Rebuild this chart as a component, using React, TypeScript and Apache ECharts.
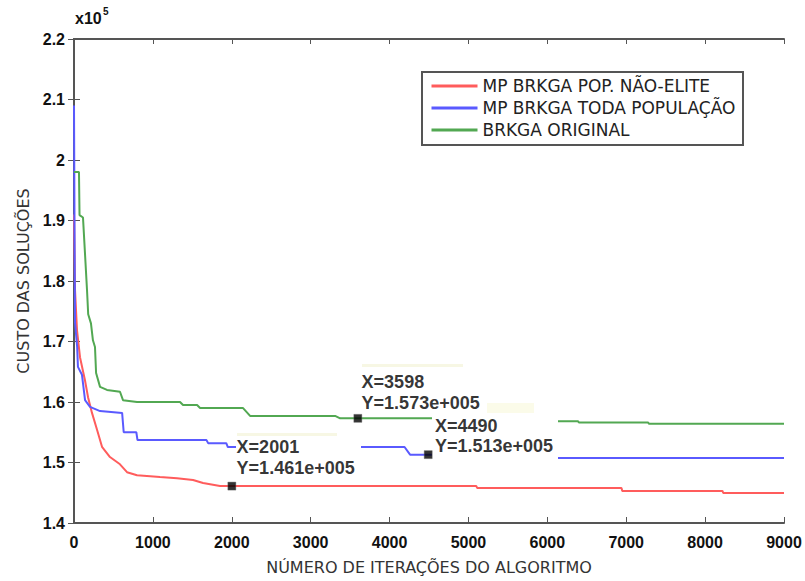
import React, { useEffect, useRef } from "react";
import * as echarts from "echarts";

// ---- data (costs in raw units) ----
const naoEliteIter = [0, 13, 38, 76, 139, 178, 228, 292, 355, 456, 583, 672, 799, 1090, 1306, 1509, 1636, 1851, 2001, 5100, 5110, 6940, 6950, 8220, 8230, 9000];
const naoEliteCost = [191000, 178500, 171900, 167400, 163600, 160800, 158200, 155400, 152600, 150900, 149700, 148400, 147900, 147600, 147400, 147100, 146600, 146100, 146100, 146100, 145800, 145800, 145300, 145300, 144960, 144960];

const todaPopIter = [0, 8, 13, 40, 50, 101, 140, 203, 330, 610, 630, 790, 805, 1680, 1700, 1930, 1950, 4190, 4260, 5300, 5310, 9000];
const todaPopCost = [209000, 185000, 173100, 169100, 165800, 164500, 160300, 159200, 158500, 158200, 155000, 155000, 153700, 153700, 153200, 153200, 152560, 152560, 151300, 151300, 150740, 150740];

const originalIter = [0, 63, 70, 114, 165, 180, 215, 240, 266, 280, 330, 418, 583, 621, 799, 1344, 1382, 1560, 1598, 2143, 2232, 3310, 3373, 5500, 5510, 6390, 6400, 7278, 7290, 9000];
const originalCost = [198000, 198000, 190900, 190500, 178500, 174500, 173000, 170200, 169100, 164800, 162500, 162000, 161700, 160300, 160000, 160000, 159500, 159500, 159000, 159000, 157700, 157700, 157300, 157300, 156800, 156800, 156600, 156600, 156400, 156400];

const tipIter = [2001, 3598, 4490];
const tipCost = [146100, 157300, 151300];

const seriesNames = ["MP BRKGA POP. NÃO-ELITE", "MP BRKGA TODA POPULAÇÃO", "BRKGA ORIGINAL"];
const xTicks = { min: 0, max: 9000, interval: 1000 };
const yTicks = { min: 140000, max: 220000, interval: 10000 };

const zip = (a: number[], b: number[]) => a.map((v, i) => [v, b[i]]);

export default function App() {
  const ref = useRef<HTMLDivElement>(null);
  useEffect(() => {
    if (!ref.current) return;
    const chart = echarts.init(ref.current, null, { renderer: "svg" });
    const tickFont = { fontFamily: "Liberation Sans, Arial, sans-serif", fontWeight: "bold" as const, fontSize: 16, color: "#111" };
    const axisLine = { show: true, lineStyle: { color: "#555", width: 2 } };
    const tipLabelPos = [
      [9, -45],
      [8, -43],
      [11, -34],
    ];
    chart.setOption({
      animation: false,
      backgroundColor: "#fff",
      grid: { left: 74, top: 39, width: 710, height: 484, containLabel: false },
      xAxis: [
        {
          type: "value", ...xTicks, position: "bottom",
          name: "NÚMERO DE ITERAÇÕES DO ALGORITMO", nameLocation: "middle", nameGap: 36,
          nameTextStyle: { fontFamily: "DejaVu Sans", fontSize: 16, color: "#333" },
          axisLine, axisTick: { inside: true, length: 6, lineStyle: { color: "#555" } },
          axisLabel: { ...tickFont, margin: 11, formatter: (v: number) => String(v) }, splitLine: { show: false },
        },
        {
          type: "value", ...xTicks, position: "top",
          axisLine, axisTick: { inside: true, length: 5, lineStyle: { color: "#555" } },
          axisLabel: { show: false }, splitLine: { show: false },
        },
      ],
      yAxis: [
        {
          type: "value", ...yTicks, position: "left",
          name: "CUSTO DAS SOLUÇÕES", nameLocation: "middle", nameGap: 40,
          nameTextStyle: { fontFamily: "DejaVu Sans", fontSize: 16, color: "#333" },
          axisLine, axisTick: { inside: true, length: 6, lineStyle: { color: "#555" } },
          axisLabel: { ...tickFont, margin: 9, formatter: (v: number) => String(+(v / 1e5).toFixed(1)) },
          splitLine: { show: false },
        },
        {
          type: "value", ...yTicks, position: "right",
          axisLine, axisTick: { inside: true, length: 6, lineStyle: { color: "#555" } },
          axisLabel: { show: false }, splitLine: { show: false },
        },
      ],
      legend: {
        orient: "vertical", left: 430, top: 76, padding: 0,
        itemWidth: 46, itemHeight: 20, itemGap: 2,
        itemStyle: { opacity: 0 },
        lineStyle: { width: 3 },
        textStyle: { fontFamily: "DejaVu Sans", fontSize: 17, color: "#222", lineHeight: 20 },
        data: seriesNames,
      },
      series: [
        { name: seriesNames[0], type: "line", symbol: "none", z: 2, data: zip(naoEliteIter, naoEliteCost), lineStyle: { color: "#ff5c5c", width: 2 }, itemStyle: { color: "#ff5c5c" } },
        { name: seriesNames[1], type: "line", symbol: "none", z: 2, data: zip(todaPopIter, todaPopCost), lineStyle: { color: "#5a5aff", width: 2 }, itemStyle: { color: "#5a5aff" } },
        { name: seriesNames[2], type: "line", symbol: "none", z: 2, data: zip(originalIter, originalCost), lineStyle: { color: "#52a852", width: 2 }, itemStyle: { color: "#52a852" } },
        {
          type: "scatter", z: 5, symbol: "rect", symbolSize: 8,
          itemStyle: { color: "#000", borderColor: "#666", borderWidth: 0.5 },
          data: tipIter.map((x, i) => ({
            value: [x, tipCost[i]],
            label: {
              show: true, position: tipLabelPos[i], align: "left", verticalAlign: "top",
              fontFamily: "Liberation Sans, Arial, sans-serif", fontWeight: "bold", fontSize: 18,
              lineHeight: i === 2 ? 20 : 21, color: "#000",
              formatter: () => `X=${x}\nY=${(tipCost[i] / 1e5).toFixed(3)}e+005`,
            },
          })),
        },
      ],
      graphic: [
        { type: "text", z: 6, left: 75, top: 10, style: { text: "x10", fontFamily: "Liberation Sans, Arial, sans-serif", fontWeight: "bold", fontSize: 16, fill: "#111" } },
        { type: "text", z: 6, left: 103, top: 6, style: { text: "5", fontFamily: "Liberation Sans, Arial, sans-serif", fontWeight: "bold", fontSize: 10, fill: "#111" } },
        { type: "rect", z: 3, shape: { x: 422, y: 72, width: 321, height: 73 }, style: { fill: "#fff", stroke: "#555", lineWidth: 2 } },
        { type: "rect", z: 3, shape: { x: 236, y: 434, width: 125, height: 34 }, style: { fill: "#fff" } },
        { type: "rect", z: 3, shape: { x: 237, y: 433, width: 100, height: 3 }, style: { fill: "#f7f7e4" } },
        { type: "rect", z: 3, shape: { x: 360, y: 364, width: 126, height: 48 }, style: { fill: "#fff" } },
        { type: "rect", z: 3, shape: { x: 362, y: 364, width: 101, height: 3 }, style: { fill: "#f7f7e4" } },
        { type: "rect", z: 3, shape: { x: 432, y: 414, width: 126, height: 48 }, style: { fill: "#fff" } },
        { type: "rect", z: 3, shape: { x: 487, y: 403, width: 47, height: 10 }, style: { fill: "#fbfbe9" } },
      ],
    });
    return () => chart.dispose();
  }, []);
  return <div ref={ref} style={{ position: "fixed", left: 0, top: 0, width: 805, height: 581 }} />;
}
